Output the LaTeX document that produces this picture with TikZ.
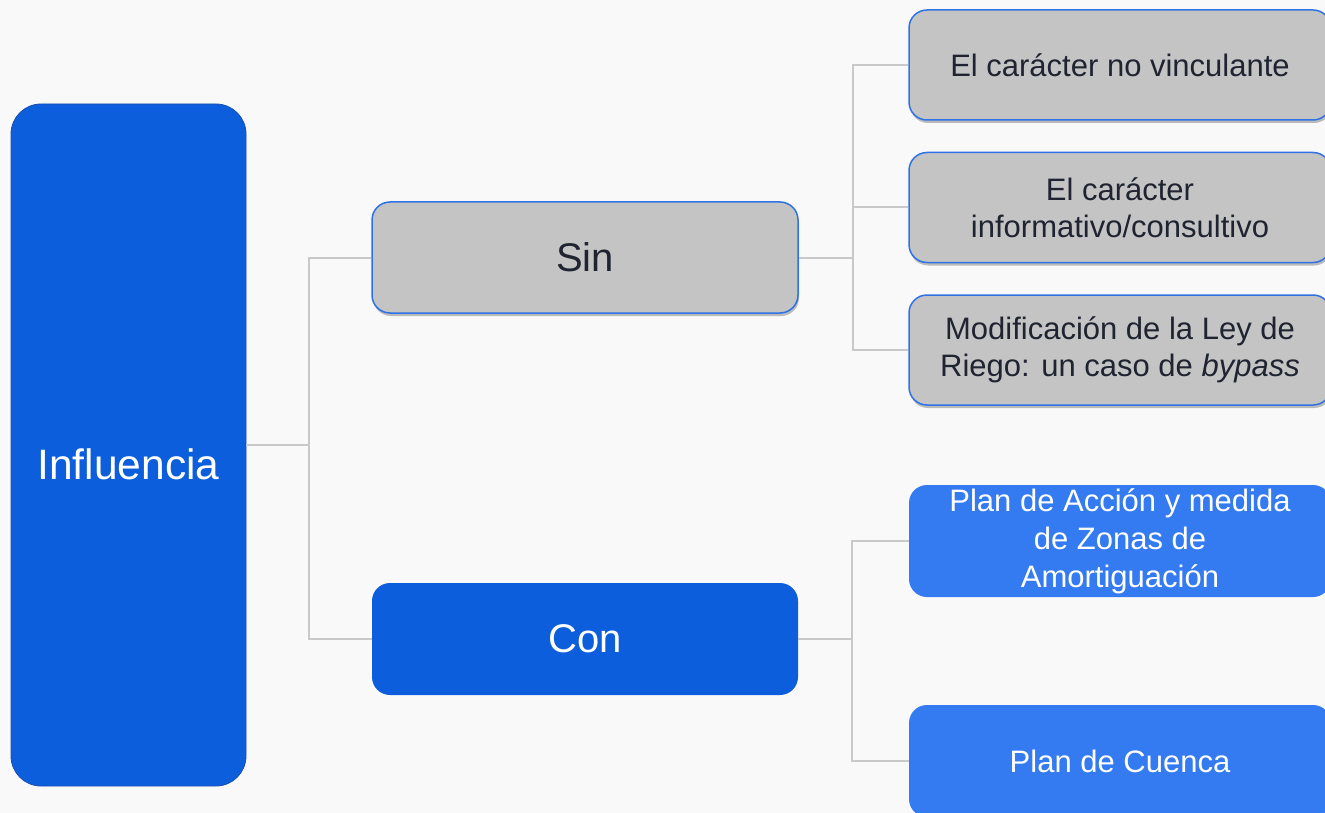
\documentclass[tikz,border=0pt]{standalone}
\usepackage{fontspec}
\setmainfont{Liberation Sans}
\usetikzlibrary{shadows}
\definecolor{bg}{HTML}{F9F9F9}
\definecolor{dblue}{HTML}{0D5EDC}
\definecolor{dborder}{HTML}{1A4FB0}
\definecolor{lblue}{HTML}{347AF1}
\definecolor{gfill}{HTML}{C4C4C4}
\definecolor{gborder}{HTML}{2F72E6}
\definecolor{conn}{HTML}{C9C9C9}
\definecolor{txt}{HTML}{1F2430}
\begin{document}
\begin{tikzpicture}[x=1pt,y=-1pt,
  box/.style={inner sep=0pt, align=center},
  mainbox/.style={box, rounded corners=30pt, fill=dblue, draw=dborder, line width=0.8pt, text=white,
     font=\fontsize{42.5}{46}\selectfont},
  midgray/.style={box, rounded corners=18pt, fill=gfill, draw=gborder, line width=1.5pt, text=txt,
     font=\fontsize{40}{44}\selectfont,
     drop shadow={shadow xshift=1pt, shadow yshift=-3pt, opacity=0.25, fill=black}},
  midblue/.style={box, rounded corners=18pt, fill=dblue, text=white, font=\fontsize{40}{44}\selectfont},
  leafgray/.style={box, rounded corners=18pt, fill=gfill, draw=gborder, line width=1.5pt, text=txt,
     font=\fontsize{31}{37}\selectfont, minimum width=422pt, minimum height=110pt,
     drop shadow={shadow xshift=1pt, shadow yshift=-3pt, opacity=0.25, fill=black}},
  leafblue/.style={box, rounded corners=18pt, fill=lblue, text=white,
     font=\fontsize{31}{38}\selectfont, minimum width=422pt, minimum height=112pt},
  link/.style={draw=conn, line width=2pt}
]
\clip (0,0) rectangle (1325,813);
\fill[bg] (0,0) rectangle (1325,813);

\node[mainbox, minimum width=235pt, minimum height=682pt, text height=68pt, text depth=0pt] (inf) at (128.5,445) {Influencia};

\node[midgray, minimum width=426pt, minimum height=111pt] (sin) at (585,257.5) {Sin};
\node[midblue, minimum width=426pt, minimum height=112pt] (con) at (585,639) {Con};

\node[leafgray] (r1) at (1120,65) {El carácter no vinculante};
\node[leafgray] (r2) at (1120,207.5) {El carácter\\informativo/consultivo};
\node[leafgray] (r3) at (1120,350) {Modificación de la Ley de\\Riego: un caso de \textit{bypass}};

\node[leafblue] (b1) at (1120,541) {Plan de Acción y medida\\de Zonas de\\Amortiguación};
\node[leafblue] (b2) at (1120,761) {Plan de Cuenca};

\draw[link] (inf.east) -- ++(63,0) |- (sin.west);
\draw[link] (inf.east) -- ++(63,0) |- (con.west);

\draw[link] (sin.east) -- ++(54,0) |- (r1.west);
\draw[link] (sin.east) -- ++(54,0) |- (r2.west);
\draw[link] (sin.east) -- ++(54,0) |- (r3.west);

\draw[link] (con.east) -- ++(54,0) |- (b1.west);
\draw[link] (con.east) -- ++(54,0) |- (b2.west);
\end{tikzpicture}
\end{document}
